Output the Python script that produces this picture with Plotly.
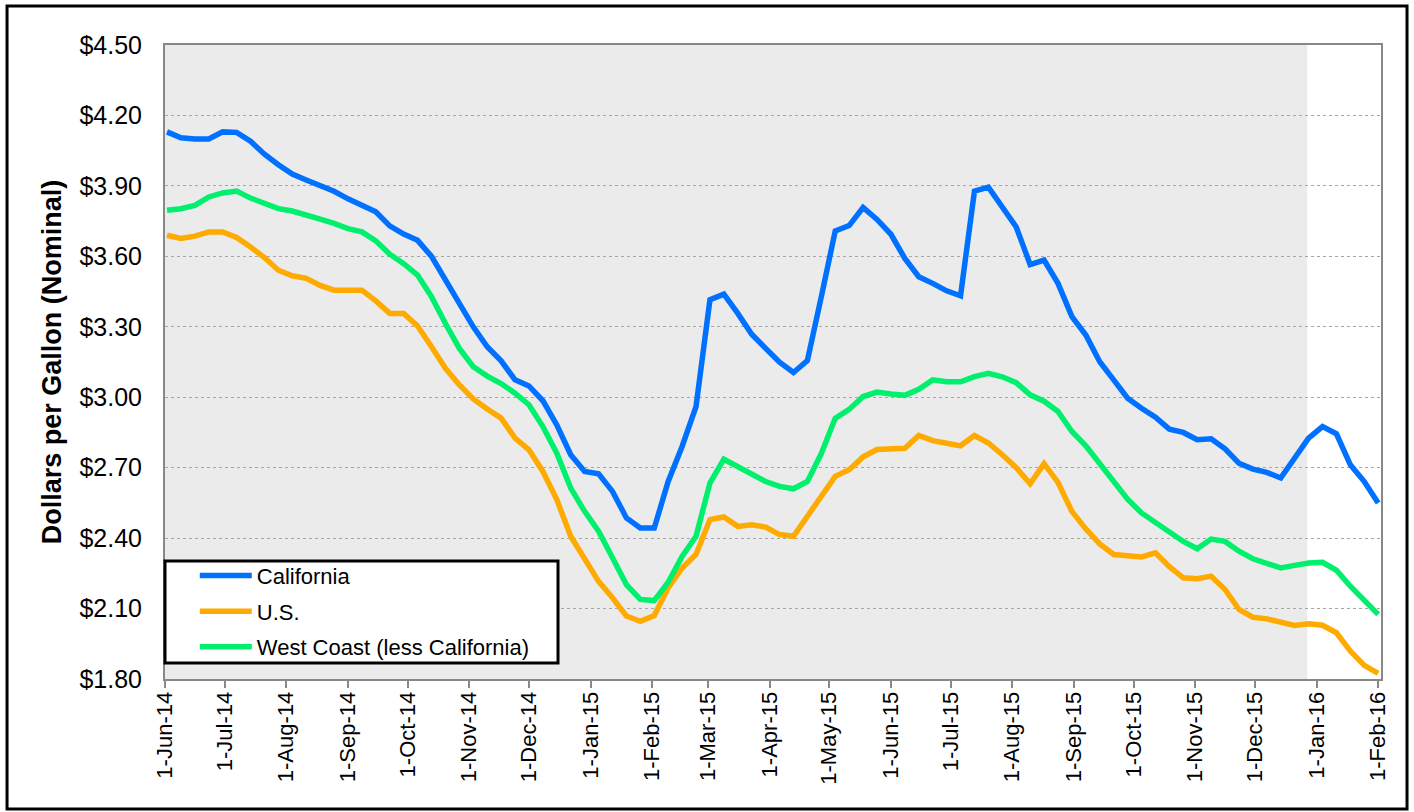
import pandas as pd
import plotly.graph_objects as go

# Weekly observations (Mondays) from 2-Jun-2014 to 1-Feb-2016
dates = pd.date_range("2014-06-02", periods=88, freq="7D")

california = [
    4.13, 4.105, 4.10, 4.10, 4.13, 4.128, 4.09, 4.035, 3.99, 3.95,
    3.925, 3.90, 3.877, 3.845, 3.82, 3.79, 3.73, 3.695, 3.668, 3.60,
    3.50, 3.40, 3.30, 3.215, 3.155, 3.074, 3.048, 2.985, 2.882, 2.755,
    2.684, 2.674, 2.599, 2.486, 2.443, 2.443, 2.641, 2.79, 2.96, 3.415,
    3.439, 3.357, 3.268, 3.208, 3.149, 3.105, 3.156, 3.428, 3.708, 3.731,
    3.808, 3.757, 3.694, 3.591, 3.513, 3.485, 3.453, 3.432, 3.878, 3.895,
    3.81, 3.725, 3.565, 3.584, 3.485, 3.343, 3.265, 3.151, 3.074, 2.996,
    2.953, 2.915, 2.864, 2.85, 2.819, 2.823, 2.78, 2.719, 2.694, 2.68,
    2.656, 2.741, 2.826, 2.875, 2.844, 2.712, 2.641, 2.55,
]

us = [
    3.69, 3.676, 3.686, 3.704, 3.704, 3.68, 3.64, 3.595, 3.541, 3.517,
    3.506, 3.476, 3.456, 3.457, 3.456, 3.41, 3.357, 3.357, 3.303, 3.215,
    3.123, 3.052, 2.993, 2.95, 2.911, 2.826, 2.776, 2.684, 2.564, 2.408,
    2.309, 2.216, 2.146, 2.068, 2.046, 2.07, 2.188, 2.273, 2.33, 2.479,
    2.49, 2.45, 2.457, 2.447, 2.415, 2.408, 2.493, 2.578, 2.663, 2.691,
    2.746, 2.777, 2.782, 2.783, 2.837, 2.815, 2.804, 2.793, 2.837, 2.805,
    2.755, 2.70, 2.631, 2.717, 2.637, 2.514, 2.439, 2.375, 2.33, 2.326,
    2.32, 2.337, 2.278, 2.231, 2.227, 2.238, 2.181, 2.096, 2.063, 2.056,
    2.039, 2.028, 2.035, 2.029, 1.997, 1.919, 1.858, 1.824,
]

west_coast = [
    3.796, 3.803, 3.817, 3.853, 3.87, 3.878, 3.848, 3.824, 3.803, 3.793,
    3.778, 3.758, 3.74, 3.718, 3.704, 3.666, 3.609, 3.569, 3.52, 3.428,
    3.314, 3.208, 3.13, 3.09, 3.058, 3.017, 2.968, 2.875, 2.762, 2.613,
    2.514, 2.429, 2.316, 2.202, 2.139, 2.134, 2.212, 2.322, 2.408, 2.634,
    2.736, 2.705, 2.67, 2.641, 2.62, 2.61, 2.641, 2.76, 2.91, 2.948,
    3.003, 3.022, 3.014, 3.008, 3.034, 3.074, 3.066, 3.066, 3.088, 3.102,
    3.087, 3.062, 3.01, 2.983, 2.939, 2.854, 2.793, 2.719, 2.641, 2.566,
    2.507, 2.467, 2.425, 2.386, 2.355, 2.396, 2.386, 2.344, 2.312, 2.294,
    2.273, 2.284, 2.294, 2.297, 2.263, 2.195, 2.136, 2.075,
]

series_names = ["California", "U.S.", "West Coast (less California)"]
series_colors = ["#0070FF", "#FFAA00", "#00F06E"]

FONT = "Liberation Sans, Arial, sans-serif"

fig = go.Figure()
for name, vals, col in zip(series_names, [california, us, west_coast], series_colors):
    fig.add_trace(go.Scatter(
        x=dates, y=vals, name=name, mode="lines",
        legendgroup=name,
        line=dict(color=col, width=5.5),
    ))

fig.update_layout(
    width=1414, height=812,
    margin=dict(l=165, r=33, t=45, b=133),
    paper_bgcolor="white",
    plot_bgcolor="white",
    font=dict(family=FONT, size=22, color="black"),
    showlegend=True,
    legend=dict(
        x=0.0245, y=0.196, xanchor="left", yanchor="top",
        bgcolor="rgba(0,0,0,0)", borderwidth=0,
        font=dict(family=FONT, size=22, color="black"),
        itemwidth=52,
        tracegroupgap=4,
    ),
    shapes=[
        # shaded period
        dict(type="rect", xref="x", yref="y domain",
             x0="2014-06-01", x1="2015-12-27 08:00", y0=0, y1=1,
             fillcolor="#EBEBEB", line=dict(width=0), layer="below"),
        # legend box
        dict(type="rect", xref="paper", yref="paper",
             x0=0.0, x1=0.3232, y0=0.0252, y1=0.1861,
             fillcolor="white", line=dict(color="black", width=3), layer="above"),
        # outer frame
        dict(type="rect", xref="paper", yref="paper",
             x0=-0.1299, x1=1.0214, y0=-0.205, y1=1.0615,
             fillcolor="rgba(0,0,0,0)", line=dict(color="black", width=3), layer="above"),
    ],
)

fig.update_xaxes(
    type="date",
    range=["2014-06-01", "2016-02-02 10:00"],
    tick0="2014-06-01", dtick="M1",
    tickformat="%-d-%b-%y",
    tickangle=-90,
    ticks="outside", ticklen=7, tickwidth=2, tickcolor="#888888",
    ticklabelstandoff=-5,
    tickfont=dict(family=FONT, size=22, color="black"),
    showgrid=False,
    showline=True, mirror=True, linecolor="#888888", linewidth=2,
    zeroline=False,
)

fig.update_yaxes(
    range=[1.8, 4.5],
    tick0=1.8, dtick=0.3,
    tickformat="$.2f",
    ticks="",
    ticklabelstandoff=16,
    tickfont=dict(family=FONT, size=25, color="black"),
    showgrid=True, gridcolor="#A6A6A6", gridwidth=1, griddash="dot",
    showline=True, mirror=True, linecolor="#888888", linewidth=2,
    zeroline=False,
    title=dict(text="<b>Dollars per Gallon (Nominal)</b>",
               font=dict(family=FONT, size=27, color="black"),
               standoff=10),
)

fig.write_html(
    "out.html",
    config={"displayModeBar": False},
    post_script="document.body.style.margin='0';document.body.style.overflow='hidden';",
)
